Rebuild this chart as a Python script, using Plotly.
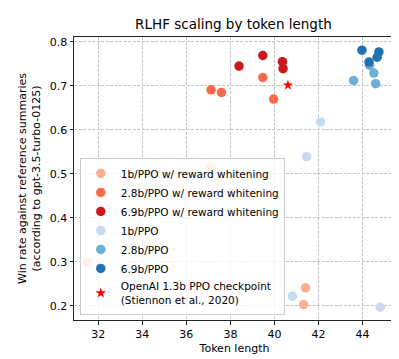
import plotly.graph_objects as go

# 1b/PPO w/ reward whitening
w1b_x = [37.11, 41.41, 41.32, 31.52]
w1b_y = [0.517, 0.241, 0.203, 0.299]
# 2.8b/PPO w/ reward whitening
w28_x = [37.12, 37.59, 39.47, 39.96]
w28_y = [0.691, 0.685, 0.719, 0.670]
# 6.9b/PPO w/ reward whitening
w69_x = [38.39, 39.47, 40.36, 40.39]
w69_y = [0.745, 0.769, 0.755, 0.739]
# 1b/PPO
p1b_x = [42.09, 41.46, 40.81, 44.80]
p1b_y = [0.618, 0.539, 0.222, 0.197]
# 2.8b/PPO
p28_x = [44.31, 44.51, 43.59, 44.59]
p28_y = [0.747, 0.729, 0.712, 0.705]
# 6.9b/PPO
p69_x = [43.97, 44.74, 44.66, 44.29]
p69_y = [0.781, 0.777, 0.765, 0.754]
# OpenAI checkpoint
oa_x = [40.61]
oa_y = [0.7015]

series = [
    ("1b/PPO w/ reward whitening", w1b_x, w1b_y, "#fcae91"),
    ("2.8b/PPO w/ reward whitening", w28_x, w28_y, "#fb6a4a"),
    ("6.9b/PPO w/ reward whitening", w69_x, w69_y, "#cb181d"),
    ("1b/PPO", p1b_x, p1b_y, "#c6dbef"),
    ("2.8b/PPO", p28_x, p28_y, "#6baed6"),
    ("6.9b/PPO", p69_x, p69_y, "#2171b5"),
]

fig = go.Figure()
for name, xs, ys, c in series:
    fig.add_trace(go.Scatter(x=xs, y=ys, mode="markers", name=name,
                             marker=dict(size=9.5, color=c, line=dict(width=0))))
fig.add_trace(go.Scatter(x=oa_x, y=oa_y, mode="markers",
                         name="OpenAI 1.3b PPO checkpoint<br>(Stiennon et al., 2020)",
                         marker=dict(size=8, color="red", symbol="star", line=dict(width=0))))

axis_common = dict(showline=True, linecolor="#222222", linewidth=1, mirror=True,
                   showgrid=True, gridcolor="#c4c4c4", griddash="3px,1.5px", gridwidth=1,
                   ticks="outside", ticklen=3.5, tickcolor="#222222", zeroline=False,
                   tickfont=dict(size=11, color="black"))

fig.update_layout(
    width=399, height=359,
    margin=dict(l=66, r=12, t=29, b=47),
    paper_bgcolor="white", plot_bgcolor="white",
    font=dict(family="DejaVu Sans", color="black", size=11),
    title=dict(text="RLHF scaling by token length", x=0.565, xanchor="center",
               y=1 - 16 / 359, yanchor="middle", font=dict(size=13.5)),
    xaxis=dict(range=[30.9, 45.47], tickvals=[32, 34, 36, 38, 40, 42, 44],
               title=dict(text="Token length", font=dict(size=11), standoff=4), **axis_common),
    yaxis=dict(range=[0.168, 0.811], tickvals=[0.2, 0.3, 0.4, 0.5, 0.6, 0.7, 0.8],
               title=dict(text="Win rate against reference summaries<br>(according to gpt-3.5-turbo-0125)",
                          font=dict(size=11), standoff=6), **axis_common),
    legend=dict(x=0.018, y=0.018, xanchor="left", yanchor="bottom",
                bgcolor="rgba(255,255,255,0.8)", bordercolor="#cccccc", borderwidth=1,
                font=dict(size=10.5), tracegroupgap=0, itemsizing="trace", itemwidth=30),
    showlegend=True,
)

fig.write_html("out.html")
